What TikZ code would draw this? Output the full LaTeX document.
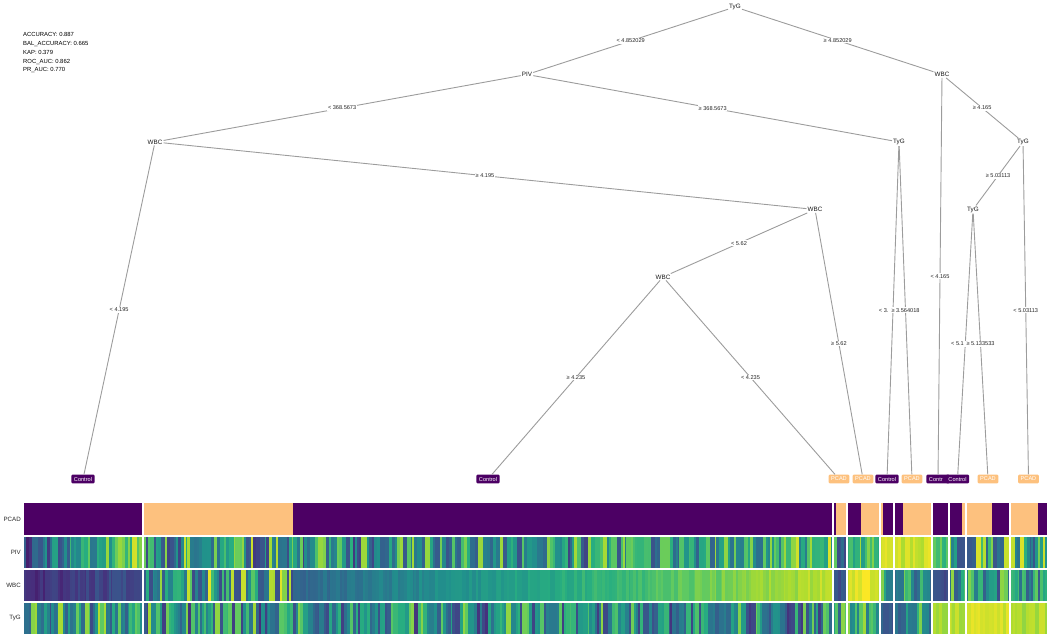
\documentclass[tikz,border=0pt]{standalone}
\usepackage{fontspec}
\setmainfont{Liberation Sans}
\definecolor{vir0}{HTML}{440154}
\definecolor{vir1}{HTML}{472D7B}
\definecolor{vir2}{HTML}{3B528B}
\definecolor{vir3}{HTML}{2C728E}
\definecolor{vir4}{HTML}{21918C}
\definecolor{vir5}{HTML}{28AE80}
\definecolor{vir6}{HTML}{5EC962}
\definecolor{vir7}{HTML}{ADDC30}
\definecolor{vir8}{HTML}{FDE725}
\definecolor{vir9}{HTML}{FDE725}
\definecolor{ctrl}{HTML}{4C0064}
\definecolor{pcad}{HTML}{FDC17E}
\definecolor{edgegray}{HTML}{9C9C9C}
\newcommand\stripes[7]{%
  \pgfmathsetmacro\stX{#1}%
  \loop
    \pgfmathsetmacro\stW{1.2+4*rnd*rnd+1.5*rnd}%
    \pgfmathsetmacro\stE{min(\stX+\stW,#2)}%
    \pgfmathsetmacro\stP{(\stX-#1)/(#2-#1)}%
    \pgfmathsetmacro\stT{max(0,min(0.999,#5+(#6-#5)*\stP+#7*(2*rnd-1)))}%
    \pgfmathtruncatemacro\stK{floor(\stT*8)}%
    \pgfmathtruncatemacro\stKK{\stK+1}%
    \pgfmathtruncatemacro\stF{(\stT*8-\stK)*100}%
    \colorlet{stripe}{vir\stKK!\stF!vir\stK}%
    \fill[stripe] (\stX,#3) rectangle (\stE+0.3,#4);%
    \let\stX\stE
  \ifdim\stX pt<#2pt\repeat}
\begin{document}
\begin{tikzpicture}[x=1pt,y=-1pt,
  inner/.style={font=\fontsize{6.3}{7}\selectfont, text=black!90, inner sep=1pt, fill=white},
  lab/.style={font=\fontsize{5.6}{6}\selectfont, text=black!85, fill=white, inner sep=0.8pt, midway},
  leafC/.style={fill=ctrl, text=white, rounded corners=1pt, font=\fontsize{5.6}{6}\selectfont, inner xsep=2.5pt, inner ysep=1.5pt, minimum height=8.8pt},
  leafP/.style={leafC, fill=pcad},
  edge/.style={draw=edgegray, line width=0.9pt},
  rowlab/.style={font=\fontsize{6.2}{7}\selectfont, text=black!85, anchor=east, inner sep=0pt}]
\useasboundingbox (0,0) rectangle (1049,636);
\pgfmathsetseed{4321}
% ---------- heatmap: PCAD row
\fill[ctrl] (24,502.5) rectangle (143,535);
\fill[pcad] (143,502.5) rectangle (293,535);
\fill[ctrl] (293,502.5) rectangle (836,535);
\fill[pcad] (836,502.5) rectangle (847,535);
\fill[ctrl] (847,502.5) rectangle (861,535);
\fill[pcad] (861,502.5) rectangle (883,535);
\fill[ctrl] (883,502.5) rectangle (903,535);
\fill[pcad] (903,502.5) rectangle (932,535);
\fill[ctrl] (932,502.5) rectangle (962,535);
\fill[pcad] (962,502.5) rectangle (992,535);
\fill[ctrl] (992,502.5) rectangle (1010,535);
\fill[pcad] (1010,502.5) rectangle (1038,535);
\fill[ctrl] (1038,502.5) rectangle (1047,535);
% ---------- PIV row
\stripes{24}{143}{536}{569}{0.25}{0.85}{0.2}
\stripes{143}{293}{536}{569}{0.55}{0.55}{0.38}
\stripes{293}{700}{536}{569}{0.5}{0.55}{0.35}
\stripes{700}{833}{536}{569}{0.6}{0.75}{0.3}
\stripes{833}{847}{536}{569}{0.55}{0.55}{0.35}
\stripes{847}{880}{536}{569}{0.72}{0.72}{0.2}
\stripes{880}{894}{536}{569}{0.95}{0.95}{0.04}
\stripes{894}{932}{536}{569}{0.93}{0.93}{0.06}
\stripes{932}{949}{536}{569}{0.7}{0.7}{0.3}
\stripes{949}{966}{536}{569}{0.6}{0.6}{0.35}
\stripes{966}{1010}{536}{569}{0.6}{0.6}{0.35}
\stripes{1010}{1047}{536}{569}{0.6}{0.6}{0.35}
% ---------- WBC row
\stripes{24}{143}{569}{602}{0.12}{0.25}{0.06}
\stripes{143}{293}{569}{602}{0.6}{0.6}{0.38}
\stripes{293}{833}{569}{602}{0.33}{0.9}{0.05}
\stripes{833}{847}{569}{602}{0.25}{0.25}{0.05}
\stripes{847}{880}{569}{602}{0.95}{0.95}{0.05}
\stripes{880}{894}{569}{602}{0.55}{0.55}{0.35}
\stripes{894}{932}{569}{602}{0.5}{0.5}{0.3}
\stripes{932}{949}{569}{602}{0.22}{0.22}{0.05}
\stripes{949}{966}{569}{602}{0.55}{0.55}{0.35}
\stripes{966}{1010}{569}{602}{0.55}{0.55}{0.35}
\stripes{1010}{1047}{569}{602}{0.55}{0.55}{0.3}
% ---------- TyG row
\stripes{24}{143}{602}{634}{0.55}{0.55}{0.35}
\stripes{143}{293}{602}{634}{0.5}{0.5}{0.38}
\stripes{293}{833}{602}{634}{0.48}{0.48}{0.35}
\stripes{833}{847}{602}{634}{0.5}{0.5}{0.35}
\stripes{847}{880}{602}{634}{0.62}{0.62}{0.25}
\stripes{880}{894}{602}{634}{0.27}{0.27}{0.08}
\stripes{894}{932}{602}{634}{0.58}{0.58}{0.3}
\stripes{932}{949}{602}{634}{0.88}{0.88}{0.05}
\stripes{949}{966}{602}{634}{0.88}{0.88}{0.05}
\stripes{966}{1010}{602}{634}{0.92}{0.92}{0.05}
\stripes{1010}{1047}{602}{634}{0.88}{0.88}{0.05}
% ---------- separators
\fill[white] (1047,500) rectangle (1049,636);
\foreach \xs in {143,833,847,880,894,932,949,966,1010}
  \draw[white, line width=1.2pt] (\xs,502) -- (\xs,634.5);
\foreach \ys in {536,569,602}
  \draw[white, line width=1.2pt] (23,\ys) -- (1048,\ys);
% ---------- row labels
\node[rowlab] (rp) at (21,519) {PCAD};
\node[rowlab] (rv) at (21,552) {PIV};
\node[rowlab] (rw) at (21,585) {WBC};
\node[rowlab] (rt) at (21,618) {TyG};
% ---------- metrics
\node[anchor=north west, align=left, font=\fontsize{5.9}{8.75}\selectfont, inner sep=0pt, text=black] (met) at (23,32.5)
  {ACCURACY: 0.887\\BAL\_ACCURACY: 0.665\\KAP: 0.379\\ROC\_AUC: 0.862\\PR\_AUC: 0.770};
% ---------- inner nodes
\node[inner] (n1) at (735,7) {TyG};
\node[inner] (n2) at (527,74.5) {PIV};
\node[inner] (n3) at (942,74.5) {WBC};
\node[inner] (n4) at (155,142) {WBC};
\node[inner] (n5) at (899,142) {TyG};
\node[inner] (n6) at (1023,142) {TyG};
\node[inner] (n7) at (815,209.5) {WBC};
\node[inner] (n8) at (973,209.5) {TyG};
\node[inner] (n9) at (663,277) {WBC};
% ---------- leaves
\node[leafC] (f1) at (83,479) {Control};
\node[leafC] (f2) at (488,479) {Control};
\node[leafP] (f3) at (839,479) {PCAD};
\node[leafP] (f4) at (863,479) {PCAD};
\node[leafC] (f5) at (887,479) {Control};
\node[leafP] (f6) at (912,479) {PCAD};
\node[leafC] (f7) at (938,479) {\rlap{Contr}\phantom{Control}};
\node[leafC] (f8) at (957.5,479) {Control};
\node[leafP] (f9) at (988,479) {PCAD};
\node[leafP] (f10) at (1028.5,479) {PCAD};
% ---------- edges
\draw[edge] (n1) -- node[lab] (e1) {< 4.852029} (n2);
\draw[edge] (n1) -- node[lab] (e2) {≥ 4.852029} (n3);
\draw[edge] (n2) -- node[lab] (e3) {< 368.5673} (n4);
\draw[edge] (n2) -- node[lab] (e4) {≥ 368.5673} (n5);
\draw[edge] (n3) -- node[lab] (e5) {< 4.165} (f7);
\draw[edge] (n3) -- node[lab] (e6) {≥ 4.165} (n6);
\draw[edge] (n4) -- node[lab] (e7) {< 4.195} (f1);
\draw[edge] (n4) -- node[lab] (e8) {≥ 4.195} (n7);
\draw[edge] (n5) -- node[lab] (e9) {\rlap{< 3.}\phantom{< 3.564018}} (f5);
\draw[edge] (n5) -- node[lab] (e10) {≥ 3.564018} (f6);
\draw[edge] (n6) -- node[lab] (e11) {< 5.03113} (f10);
\draw[edge] (n6) -- node[lab] (e12) {≥ 5.03113} (n8);
\draw[edge] (n7) -- node[lab] (e13) {< 5.62} (n9);
\draw[edge] (n7) -- node[lab] (e14) {≥ 5.62} (f4);
\draw[edge] (n8) -- node[lab] (e15) {\rlap{< 5.1}\phantom{< 5.133533}} (f8);
\draw[edge] (n8) -- node[lab] (e16) {≥ 5.133533} (f9);
\draw[edge] (n9) -- node[lab] (e17) {≥ 4.235} (f2);
\draw[edge] (n9) -- node[lab] (e18) {< 4.235} (f3);
\end{tikzpicture}
\end{document}
